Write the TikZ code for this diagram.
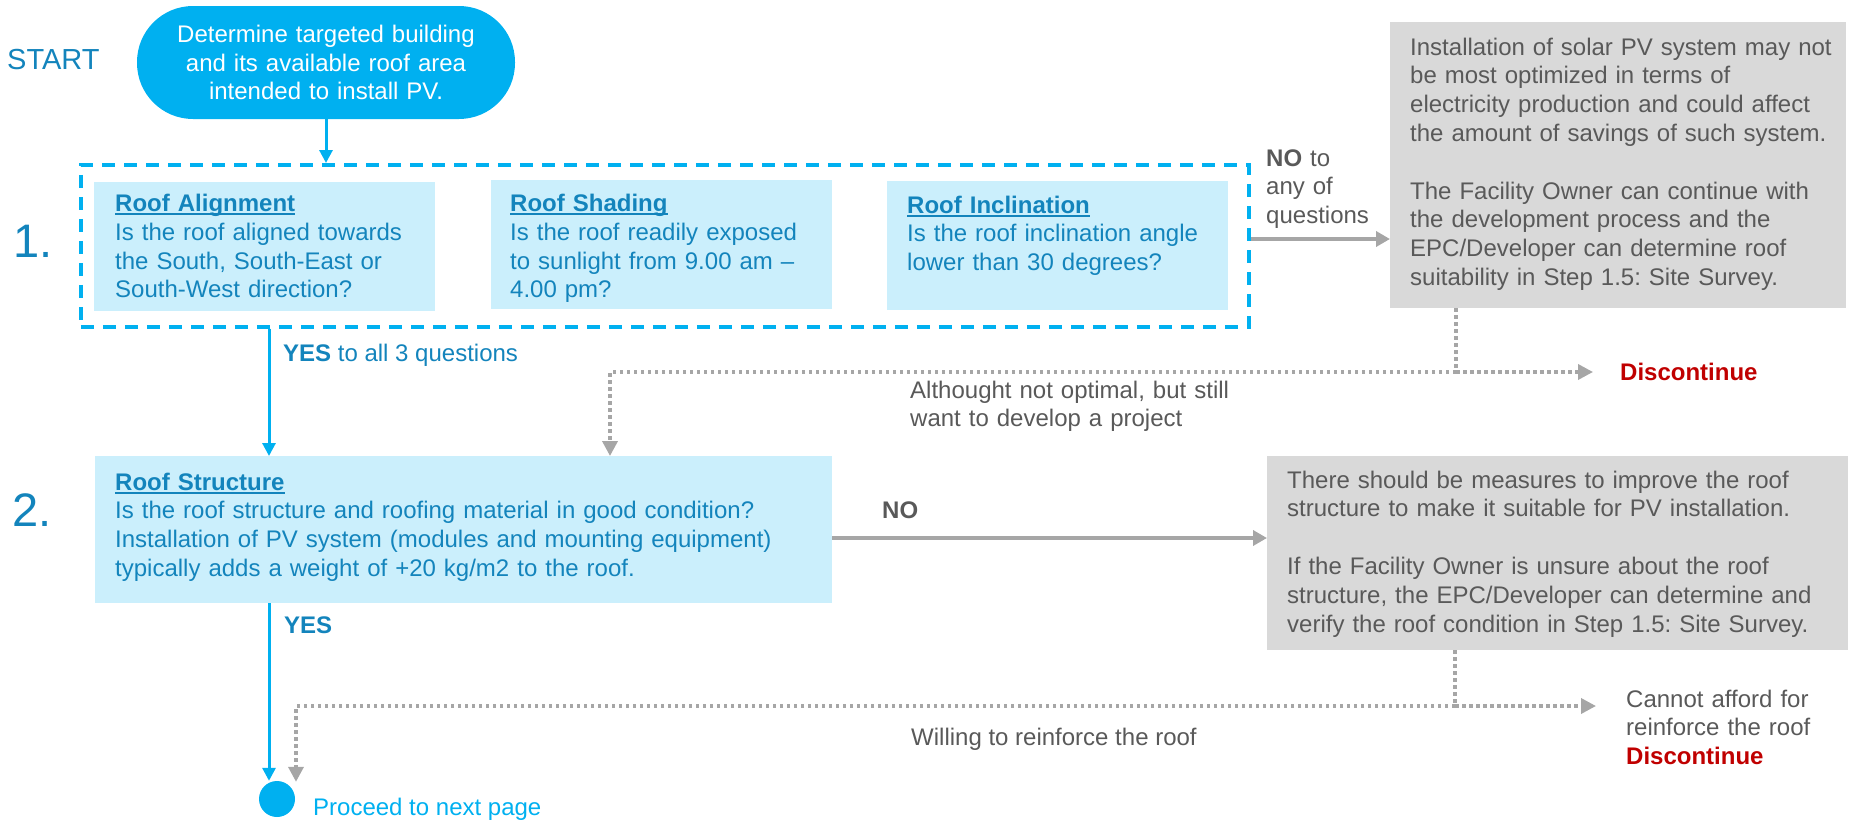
\documentclass[tikz,border=0pt]{standalone}
\usepackage{fontspec}
\setmainfont{Liberation Sans}
\usetikzlibrary{arrows.meta}
\frenchspacing
\definecolor{bright}{HTML}{00B0F0}
\definecolor{myteal}{HTML}{1384BC}
\definecolor{qfill}{HTML}{CBEFFC}
\definecolor{gfill}{HTML}{D9D9D9}
\definecolor{gtext}{HTML}{595959}
\definecolor{gline}{HTML}{A6A6A6}
\definecolor{dred}{HTML}{C00000}
\newsavebox{\ttlbox}
\newcommand{\boxtitle}[1]{\sbox{\ttlbox}{\textbf{#1}}\rlap{\rule[-3.5pt]{\wd\ttlbox}{1.8pt}}\usebox{\ttlbox}}
\tikzset{
  txt/.style={inner sep=0pt, anchor=base west, align=left, font=\fontsize{24}{28.8}\selectfont\frenchspacing},
  qtxt/.style={txt, text=myteal},
  gtxt/.style={txt, text=gtext},
  qbox/.style={fill=qfill, draw=none, anchor=north west, inner sep=0pt},
  gbox/.style={fill=gfill, draw=none, anchor=north west, inner sep=0pt},
  bluearrow/.style={draw=bright, line width=3pt, -{Triangle[length=13pt,width=13pt]}},
  grayarrow/.style={draw=gline, line width=4pt, -{Triangle[length=14pt,width=15pt]}},
  dotline/.style={draw=gline, line width=3.5pt, dash pattern=on 3.5pt off 3.5pt},
  dotarrow/.style={dotline, -{Triangle[length=15pt,width=15pt]}},
  bignum/.style={inner sep=0pt, anchor=base west, text=myteal, font=\fontsize{47}{56}\selectfont}
}
\begin{document}
\begin{tikzpicture}[x=1pt,y=-1pt]
\useasboundingbox (0,0) rectangle (1851,819);

% START
\node[inner sep=0pt, anchor=base west, text=myteal, font=\fontsize{29}{34}\selectfont] (startlbl) at (7,69) {START};
\node[fill=bright, rounded corners=56pt, minimum width=378pt, minimum height=113pt, inner sep=0pt,
      text=white, align=center, text width=370pt, font=\fontsize{24}{28.8}\selectfont] (start) at (326,62.5)
  {Determine targeted building\\and its available roof area\\intended to install PV.};

% Step 1
\node[bignum] (n1) at (13,257) {1.};
\node[draw=bright, line width=3.5pt, dash pattern=on 13pt off 9pt, anchor=north west, inner sep=0pt,
      minimum width=1168pt, minimum height=162pt] (d1) at (79,163) {};
\node[qbox, minimum width=341pt, minimum height=129pt] (b1) at (94,182) {};
\node[qbox, minimum width=341pt, minimum height=129pt] (b2) at (491,180) {};
\node[qbox, minimum width=341pt, minimum height=129pt] (b3) at (887,181) {};
\node[qtxt, text width=320pt] (t1) at (115,211.5) {\boxtitle{Roof Alignment}\\Is the roof aligned towards\\the South, South-East or\\South-West direction?};
\node[qtxt, text width=320pt] (t2) at (510,211.5) {\boxtitle{Roof Shading}\\Is the roof readily exposed\\to sunlight from 9.00 am --\\4.00 pm?};
\node[qtxt, text width=320pt] (t3) at (907,213) {\boxtitle{Roof Inclination}\\Is the roof inclination angle\\lower than 30 degrees?};

\node[gtxt, text width=120pt] (no1) at (1266,166) {\textbf{NO} to\\any of\\questions};

% grey box 1
\node[gbox, minimum width=456pt, minimum height=286pt] (g1) at (1390,22) {};
\node[gtxt, text width=440pt] (g1t) at (1410,55) {Installation of solar PV system may not\\be most optimized in terms of\\electricity production and could affect\\the amount of savings of such system.\\[28.8pt]The Facility Owner can continue with\\the development process and the\\EPC/Developer can determine roof\\suitability in Step 1.5: Site Survey.};

\node[txt, text=dred] (disc1) at (1620,380) {\textbf{Discontinue}};

\node[qtxt] (yes1) at (283,361) {\textbf{YES} to all 3 questions};
\node[gtxt, text width=420pt] (alth) at (910,398) {Althought not optimal, but still\\want to develop a project};

% Step 2
\node[bignum] (n2) at (12,526) {2.};
\node[qbox, minimum width=737pt, minimum height=147pt] (b4) at (95,456) {};
\node[qtxt, text width=720pt] (t4) at (115,490) {\boxtitle{Roof Structure}\\Is the roof structure and roofing material in good condition?\\Installation of PV system (modules and mounting equipment)\\typically adds a weight of +20 kg/m2 to the roof.};

\node[gtxt, font=\fontsize{24}{28.8}\selectfont\bfseries] (no2) at (882,518) {NO};

\node[gbox, minimum width=581pt, minimum height=194pt] (g2) at (1267,456) {};
\node[gtxt, text width=570pt] (g2t) at (1287,488) {There should be measures to improve the roof\\structure to make it suitable for PV installation.\\[28.8pt]If the Facility Owner is unsure about the roof\\structure, the EPC/Developer can determine and\\verify the roof condition in Step 1.5: Site Survey.};

\node[qtxt] (yes2) at (284,633) {\textbf{YES}};
\node[gtxt] (will) at (911,745) {Willing to reinforce the roof};
\node[gtxt, text width=220pt] (cann) at (1626,707) {Cannot afford for\\reinforce the roof\\\textcolor{dred}{\textbf{Discontinue}}};

\node[circle, fill=bright, minimum size=36pt, inner sep=0pt] (circ) at (277,799) {};
\node[txt, text=bright] (proc) at (313,815) {Proceed to next page};

% coordinates
\coordinate (yx) at (269,0);
\coordinate (ny1) at (0,239);
\coordinate (ny2) at (0,538);
\coordinate (j1) at (1456,372);
\coordinate (j2) at (1455,706);
\coordinate (bx) at (610,0);
\coordinate (cx) at (296,0);

% connectors
\draw[bluearrow] (start.south) -- (d1.north -| start.south);
\draw[bluearrow] (d1.south -| yx) -- (b4.north -| yx);
\draw[grayarrow] (d1.east |- ny1) -- (g1.west |- ny1);
\draw[dotline] (g1.south -| j1) -- (j1);
\draw[dotarrow] (j1) -- ([xshift=-27pt]disc1.west |- j1);
\draw[dotarrow] (j1) -| (b4.north -| bx);
\draw[grayarrow] (b4.east |- ny2) -- (g2.west |- ny2);
\draw[dotline] (g2.south -| j2) -- (j2);
\draw[dotarrow] (j2) -- ([xshift=-30pt]cann.west |- j2);
\draw[bluearrow] (b4.south -| yx) -- (circ.north -| yx);
\draw[dotarrow] (j2) -| ([yshift=-1pt]circ.north -| cx);
\end{tikzpicture}
\end{document}
